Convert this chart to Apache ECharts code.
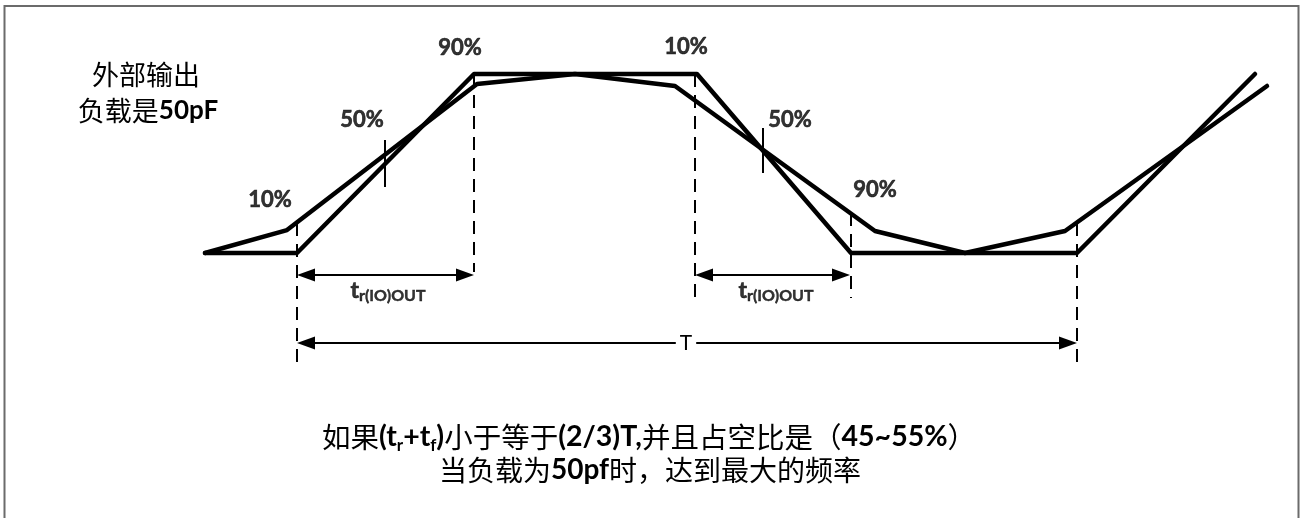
<!DOCTYPE html>
<html>
<head>
<meta charset="utf-8">
<script src="https://cdn.jsdelivr.net/npm/echarts@6/dist/echarts.min.js"></script>
<style>
html,body{margin:0;padding:0;background:#fff;}
#chart{width:1301px;height:518px;}
</style>
</head>
<body>
<div id="chart"></div>
<script>
// Time axis in arbitrary units; level in % of the supply swing (0 = low, 100 = high)
const idealTime  = [205, 297, 474, 697, 851, 1077, 1255];
const idealLevel = [0, 0, 100, 100, 0, 0, 100];
const loadTime   = [205, 287, 477, 575, 675, 875, 965, 1065, 1267];
const loadLevel  = [0, 12.8, 94.4, 100, 93.3, 12.3, 0, 12.3, 93.3];

// vertical markers (time, from level, to level, dashed)
const markerTime   = [297, 474, 385, 695, 763, 851, 1077];
const markerFrom   = [16.8, 100, 63.1, 100, 69.8, 22.3, 16.8];
const markerTo     = [-62.6, -10.6, 36.9, -25.1, 44.7, -25.1, -62.6];
const markerDashed = [1, 1, 0, 1, 0, 1, 1];

// dimension arrows
const spanFrom  = [297, 695, 297];
const spanTo    = [474, 850, 1077];
const spanLevel = [-12.3, -12.3, -50.3];
const spanName  = ['tr', 'tr', 'T'];

// percentage labels
const pctText  = ['10%', '50%', '90%', '10%', '50%', '90%'];
const pctTime  = [270, 362, 460, 686, 790, 875];
const pctLevel = [29.6, 74.3, 114.5, 115, 74.3, 35.2];

// t_r(IO)OUT labels
const trTime  = [388, 776];
const trLevel = [-21.2, -21.2];

const LATIN = 'Lato, "Noto Sans", sans-serif';
const CJK = '"Noto Sans CJK SC", sans-serif';

const chart = echarts.init(document.getElementById('chart'), null, {renderer: 'canvas'});

const option = {
  animation: false,
  backgroundColor: '#fff',
  grid: {left: 0, right: 0, top: 0, bottom: 0},
  xAxis: {type: 'value', min: 0, max: 1301, show: false},
  yAxis: {type: 'value', min: -148.04, max: 141.34, show: false},
  graphic: [
    {type: 'rect', shape: {x: 4.5, y: 6, width: 1294, height: 540},
     style: {fill: 'none', stroke: '#6b6b6b', lineWidth: 2}, silent: true},
    {type: 'text', x: 146, y: 75,
     style: {text: '外部输出', font: '400 27px ' + CJK, fill: '#000', align: 'center', verticalAlign: 'middle'}},
    {type: 'text', x: 148, y: 111,
     style: {text: '{c|负载是}{b|50pF}', align: 'center', verticalAlign: 'middle',
       rich: {c: {fontFamily: CJK, fontSize: 27, fontWeight: 400, fill: '#000'},
              b: {fontFamily: LATIN, fontSize: 26, fontWeight: 'bold', fill: '#000'}}}},
    {type: 'text', x: 649, y: 437,
     style: {text: '{c|如果}{b|(t}{s|r}{b|+t}{s|f}{b|)}{c|小于等于}{b|(2/3)T,}{c|并且占空比是（}{b|45~55%}{c|）}',
       align: 'center', verticalAlign: 'middle',
       rich: {c: {fontFamily: CJK, fontSize: 28.5, fontWeight: 400, lineHeight: 34, fill: '#000'},
              b: {fontFamily: LATIN, fontSize: 28.5, fontWeight: 'bold', lineHeight: 34, fill: '#000'},
              s: {fontFamily: LATIN, fontSize: 17, fontWeight: 'bold', lineHeight: 15, verticalAlign: 'bottom', fill: '#000'}}}},
    {type: 'text', x: 650, y: 470,
     style: {text: '{c|当负载为}{b|50pf}{c|时，达到最大的频率}', align: 'center', verticalAlign: 'middle',
       rich: {c: {fontFamily: CJK, fontSize: 28, fontWeight: 400, fill: '#000'},
              b: {fontFamily: LATIN, fontSize: 28, fontWeight: 'bold', fill: '#000'}}}}
  ],
  series: [
    {
      type: 'custom', name: 'markers', silent: true, z: 1,
      data: markerTime.map((t, i) => [t, markerFrom[i], markerTo[i], markerDashed[i]]),
      renderItem: function (params, api) {
        const p1 = api.coord([api.value(0), api.value(1)]);
        const p2 = api.coord([api.value(0), api.value(2)]);
        return {type: 'line', shape: {x1: p1[0], y1: p1[1], x2: p2[0], y2: p2[1]},
          style: {stroke: '#000', lineWidth: 2, lineDash: api.value(3) ? [13, 8] : null}};
      }
    },
    {
      type: 'line', name: 'ideal', data: idealTime.map((t, i) => [t, idealLevel[i]]),
      symbol: 'none', z: 3,
      lineStyle: {color: '#000', width: 4.5, cap: 'round', join: 'round'}
    },
    {
      type: 'line', name: 'load', data: loadTime.map((t, i) => [t, loadLevel[i]]),
      symbol: 'none', z: 3,
      lineStyle: {color: '#000', width: 4.5, cap: 'round', join: 'round'}
    },
    {
      type: 'custom', name: 'spans', silent: true, z: 2,
      data: spanFrom.map((t, i) => [t, spanTo[i], spanLevel[i], i]),
      renderItem: function (params, api) {
        const p1 = api.coord([api.value(0), api.value(2)]);
        const p2 = api.coord([api.value(1), api.value(2)]);
        const name = spanName[api.value(3)];
        const L = 18, H = 6.5, y = p1[1];
        const children = [
          {type: 'line', shape: {x1: p1[0] + 4, y1: y, x2: p2[0] - 4, y2: y}, style: {stroke: '#000', lineWidth: 2}},
          {type: 'polygon', shape: {points: [[p1[0], y], [p1[0] + L, y - H], [p1[0] + L, y + H]]}, style: {fill: '#000'}},
          {type: 'polygon', shape: {points: [[p2[0], y], [p2[0] - L, y - H], [p2[0] - L, y + H]]}, style: {fill: '#000'}}
        ];
        if (name === 'T') {
          const mid = api.coord([686, api.value(2)]);
          children.push({type: 'text', x: mid[0], y: y,
            style: {text: 'T', font: '400 21px ' + LATIN, fill: '#000', align: 'center', verticalAlign: 'middle',
              backgroundColor: '#fff', padding: [2, 4, 2, 4]}});
        }
        return {type: 'group', children: children};
      }
    },
    {
      type: 'scatter', name: 'pct', symbolSize: 0, silent: true, z: 4,
      data: pctTime.map((t, i) => ({value: [t, pctLevel[i]], name: pctText[i]})),
      label: {show: true, position: 'inside', formatter: '{b}', color: '#000',
        fontFamily: LATIN, fontSize: 22, fontWeight: 'bold', textBorderColor: '#000', textBorderWidth: 0.6}
    },
    {
      type: 'scatter', name: 'tr', symbolSize: 0, silent: true, z: 4,
      data: trTime.map((t, i) => [t, trLevel[i]]),
      label: {show: true, position: 'inside', formatter: '{t|t}{s|r(IO)OUT}',
        rich: {t: {fontFamily: LATIN, fontSize: 23, fontWeight: 'bold', color: '#000', lineHeight: 26,
                   textBorderColor: '#000', textBorderWidth: 0.6},
               s: {fontFamily: LATIN, fontSize: 16, fontWeight: 'bold', color: '#000', lineHeight: 14, verticalAlign: 'bottom',
                   textBorderColor: '#000', textBorderWidth: 0.4}}}
    }
  ]
};
chart.setOption(option);
</script>
</body>
</html>
